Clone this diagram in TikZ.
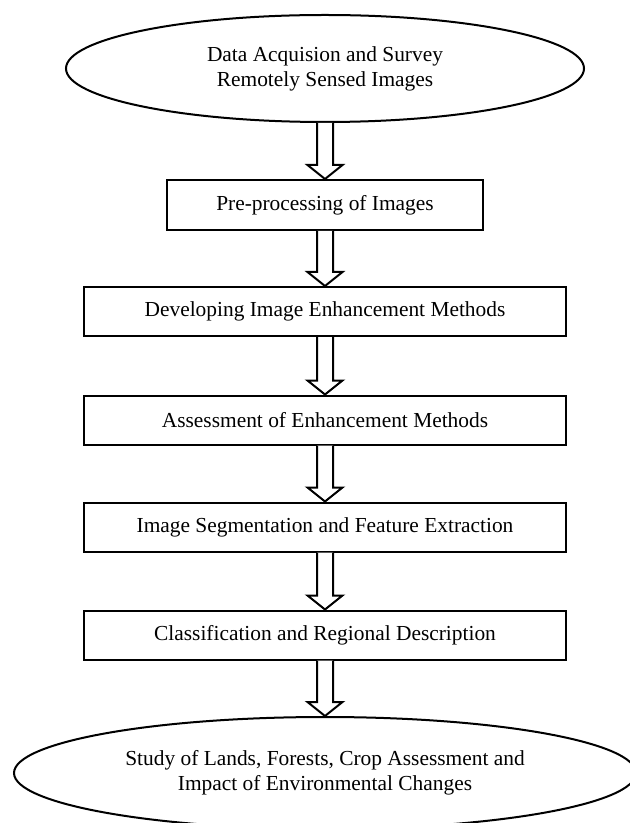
\documentclass[tikz,border=0pt]{standalone}
\usepackage{fontspec}
\setmainfont{Liberation Serif}
\usetikzlibrary{shapes.geometric,calc}

%% hollow block arrow from the bottom of #1 to the top of #2
\newcommand\blockarrow[2]{%
  \coordinate (tip) at (#1.south |- #2.north);
  \draw[hollow] ($(#1.south)+(-8,0)$) -- ($(tip)+(-8,-14)$)
    -- ($(tip)+(-17.5,-14)$) -- (tip) -- ($(tip)+(17.5,-14)$)
    -- ($(tip)+(8,-14)$) -- ($(#1.south)+(8,0)$);}

\begin{document}
\begin{tikzpicture}[x=0.5pt,y=-0.5pt,
% Text style
    every node/.style={font=\fontsize{10.7pt}{12.5pt}\selectfont,
		align=center,inner sep=0pt},
% Ellipse and box style
    oval/.style={ellipse,draw,line width=1pt},
    step box/.style={rectangle,draw,line width=1pt,
		minimum width=241pt,minimum height=24.5pt},
% Arrow style
    hollow/.style={line width=1pt,line join=miter,fill=white}
    ]
    \useasboundingbox (0,0) rectangle (630,823);
%% Draw ellipses and boxes
    \node (e1) [oval,minimum width=259pt,minimum height=53.5pt]
		at (325,68.5) {Data Acquision and Survey\\Remotely Sensed Images};
    \node (b1) [step box,minimum width=158pt,minimum height=25pt]
		at (325,205) {Pre-processing of Images};
    \node (b2) [step box] at (325,311.5) {Developing Image Enhancement Methods};
    \node (b3) [step box] at (325,420) {Assessment of Enhancement Methods};
    \node (b4) [step box] at (325,527) {Image Segmentation and Feature Extraction};
    \node (b5) [step box] at (325,635) {Classification and Regional Description};
    \node (e2) [oval,minimum width=311pt,minimum height=56pt]
		at (325,773) {Study of Lands, Forests, Crop Assessment and\\
		Impact of Environmental Changes};
%% Draw arrows
    \blockarrow{e1}{b1}
    \blockarrow{b1}{b2}
    \blockarrow{b2}{b3}
    \blockarrow{b3}{b4}
    \blockarrow{b4}{b5}
    \blockarrow{b5}{e2}
\end{tikzpicture}
\end{document}
